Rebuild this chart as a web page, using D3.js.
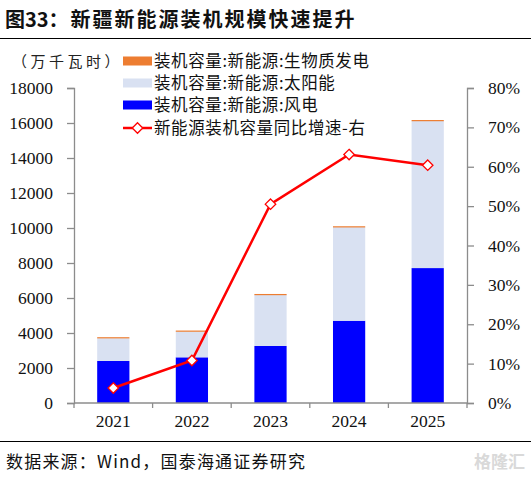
<!DOCTYPE html>
<html>
<head>
<meta charset="utf-8">
<script src="https://cdn.jsdelivr.net/npm/d3@7"></script>
<style>
body { margin: 0; background: #fff; }
svg { display: block; }
</style>
</head>
<body>
<svg id="chart" width="531" height="478"></svg>
<script>
var MARGIN = { LEFT: 74, RIGHT: 64, TOP: 88, BOTTOM: 75 };
var W = 531, H = 478;
var CN = '"Noto Sans CJK SC", sans-serif';
var NUM = '"Liberation Serif", "Times New Roman", serif';

// data
var years = ['2021', '2022', '2023', '2024', '2025'];
var windCap = [2400, 2610, 3260, 4700, 7710];
var solarCap = [1300, 1490, 2930, 5350, 8410];
var bioCap = [60, 40, 40, 50, 50];
var yoyGrowth = [0.038, 0.108, 0.505, 0.631, 0.604];
var leftTicks = [0, 2000, 4000, 6000, 8000, 10000, 12000, 14000, 16000, 18000];
var rightTicks = [0, 0.1, 0.2, 0.3, 0.4, 0.5, 0.6, 0.7, 0.8];
var seriesNames = ['装机容量:新能源:生物质发电', '装机容量:新能源:太阳能', '装机容量:新能源:风电', '新能源装机容量同比增速-右'];
var seriesColors = ['#ed7d31', '#d9e1f2', '#0000ff', '#ff0000'];

var innerW = W - MARGIN.LEFT - MARGIN.RIGHT,
    innerH = H - MARGIN.TOP - MARGIN.BOTTOM;

var svg = d3.select('#chart');

// title
var title = svg.append('text')
    .attr('x', 5)
    .attr('y', 27)
    .style('font-family', CN)
    .style('font-weight', '700')
    .style('font-size', '20px')
    .style('fill', '#111');
title.append('tspan').text('图33：');
title.append('tspan').attr('dx', 2).style('letter-spacing', '2px').text('新疆新能源装机规模快速提升');

svg.append('line')
    .attr('x1', 0).attr('x2', W)
    .attr('y1', 38.5).attr('y2', 38.5)
    .style('stroke', '#000').style('stroke-width', 1.2);

svg.append('text')
    .attr('x', 12)
    .attr('y', 67)
    .style('font-family', CN)
    .style('font-size', '15px')
    .style('letter-spacing', '3.5px')
    .style('fill', '#222')
    .text('（万千瓦时）');

var x = d3.scaleBand()
    .domain(years)
    .range([0, innerW])
    .paddingInner(0.59)
    .paddingOuter(0.295);
var yL = d3.scaleLinear().domain([0, 18000]).range([innerH, 0]);
var yR = d3.scaleLinear().domain([0, 0.8]).range([innerH, 0]);

var g = svg.append('g')
    .attr('transform', 'translate(' + MARGIN.LEFT + ',' + MARGIN.TOP + ')');

// stacked bars
var rows = years.map(function (yr, i) {
    return { year: yr, wind: windCap[i], solar: solarCap[i], bio: bioCap[i] };
});
var stack = d3.stack().keys(['wind', 'solar', 'bio'])(rows);
var stackColors = { wind: seriesColors[2], solar: seriesColors[1], bio: seriesColors[0] };

g.selectAll('g.layer')
    .data(stack)
    .enter().append('g')
    .attr('class', 'layer')
    .style('fill', function (d) { return stackColors[d.key]; })
    .selectAll('rect')
    .data(function (d) { return d; })
    .enter().append('rect')
    .attr('x', function (d) { return x(d.data.year); })
    .attr('width', x.bandwidth())
    .attr('y', function (d) { return yL(d[1]); })
    .attr('height', function (d) { return Math.max(1.2, yL(d[0]) - yL(d[1])); });

// axes
var axisColor = '#8c8c8c';
var leftAxis = g.append('g')
    .call(d3.axisLeft(yL).tickValues(leftTicks).tickSize(7).tickPadding(14).tickFormat(d3.format('d')));
var rightAxis = g.append('g')
    .attr('transform', 'translate(' + innerW + ',0)')
    .call(d3.axisRight(yR).tickValues(rightTicks).tickSize(7).tickPadding(14).tickFormat(d3.format('.0%')));
var bottomAxis = g.append('g')
    .attr('transform', 'translate(0,' + innerH + ')')
    .call(d3.axisBottom(x).tickSize(0).tickPadding(12));

[leftAxis, rightAxis, bottomAxis].forEach(function (ax) {
    ax.selectAll('path, line').style('stroke', axisColor).style('stroke-width', 1.3);
    ax.selectAll('text')
        .style('font-family', NUM)
        .style('font-size', '17.5px')
        .style('fill', '#111');
});
bottomAxis.select('.domain').attr('d', 'M0,0H' + innerW);

// category boundary ticks on the x axis
g.append('g')
    .selectAll('line')
    .data(d3.range(years.length + 1))
    .enter().append('line')
    .attr('x1', function (i) { return i * innerW / years.length; })
    .attr('x2', function (i) { return i * innerW / years.length; })
    .attr('y1', innerH)
    .attr('y2', innerH + 5)
    .style('stroke', axisColor)
    .style('stroke-width', 1.3);

// growth line
var cx = function (i) { return x(years[i]) + x.bandwidth() / 2; };
var line = d3.line()
    .x(function (d, i) { return cx(i); })
    .y(function (d) { return yR(d); });
g.append('path')
    .datum(yoyGrowth)
    .attr('d', line)
    .style('fill', 'none')
    .style('stroke', seriesColors[3])
    .style('stroke-width', 2.5);

var diamond = d3.symbol().type(d3.symbolDiamond2).size(70);
g.selectAll('path.marker')
    .data(yoyGrowth)
    .enter().append('path')
    .attr('class', 'marker')
    .attr('d', diamond)
    .attr('transform', function (d, i) { return 'translate(' + cx(i) + ',' + yR(d) + ')'; })
    .style('fill', '#fff')
    .style('stroke', seriesColors[3])
    .style('stroke-width', 1.3);

// legend
var legend = svg.append('g').attr('transform', 'translate(123,0)');
var legendY = [61, 83, 105, 128];
seriesNames.forEach(function (name, i) {
    var row = legend.append('g').attr('transform', 'translate(0,' + legendY[i] + ')');
    if (i < 3) {
        row.append('rect')
            .attr('x', 0).attr('y', -4.5)
            .attr('width', 29).attr('height', 9)
            .style('fill', seriesColors[i]);
    } else {
        row.append('line')
            .attr('x1', 0).attr('x2', 29)
            .attr('y1', 0).attr('y2', 0)
            .style('stroke', seriesColors[3]).style('stroke-width', 2.5);
        row.append('path')
            .attr('d', diamond)
            .attr('transform', 'translate(14.5,0)')
            .style('fill', '#fff')
            .style('stroke', seriesColors[3])
            .style('stroke-width', 1.3);
    }
    row.append('text')
        .attr('x', 31)
        .attr('y', 6)
        .style('font-family', CN)
        .style('font-size', '16.5px')
        .style('letter-spacing', '0.6px')
        .style('fill', '#111')
        .text(name);
});

// source
svg.append('line')
    .attr('x1', 0).attr('x2', W)
    .attr('y1', 441.5).attr('y2', 441.5)
    .style('stroke', '#000').style('stroke-width', 1.2);

svg.append('text')
    .attr('x', 6)
    .attr('y', 468)
    .style('font-family', CN)
    .style('font-size', '17px')
    .style('letter-spacing', '1.2px')
    .style('fill', '#111')
    .text('数据来源：Wind，国泰海通证券研究');

svg.append('text')
    .attr('x', 525)
    .attr('y', 468)
    .attr('text-anchor', 'end')
    .style('font-family', CN)
    .style('font-weight', '700')
    .style('font-size', '17px')
    .style('fill', '#d9d9d9')
    .text('格隆汇');
</script>
</body>
</html>
